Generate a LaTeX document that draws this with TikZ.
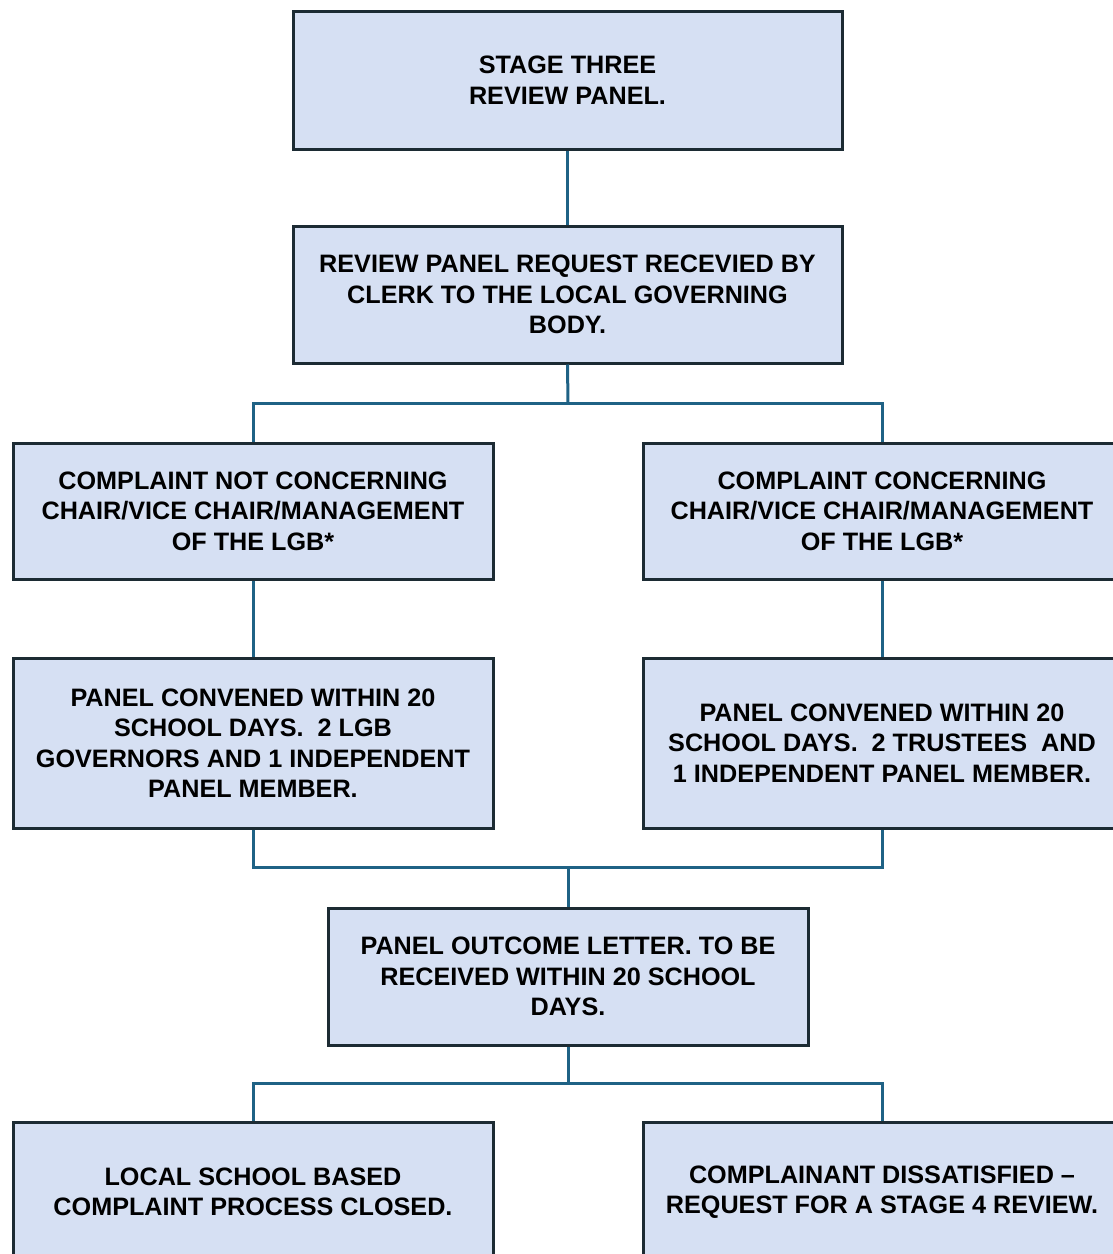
\documentclass[tikz,border=0pt]{standalone}
\usepackage{fontspec}
\setmainfont{Liberation Sans}
\begin{document}
\begin{tikzpicture}[x=1pt,y=-1pt,
  stagebox/.style={draw=boxline, fill=boxfill, line width=3pt, inner sep=0pt,
    align=center, font=\fontsize{25.2}{30.5}\selectfont\bfseries},
  link/.style={draw=linkcol, line width=3pt}]
\definecolor{boxfill}{HTML}{D6E0F3}
\definecolor{boxline}{HTML}{1C2B33}
\definecolor{linkcol}{HTML}{1F6285}
\useasboundingbox (0,0) rectangle (1113,1254);
\clip (0,0) rectangle (1113,1254);
% boxes
\node[stagebox, minimum width=549pt, minimum height=138pt] (top) at (567.5,80)
  {STAGE THREE\\REVIEW PANEL.};
\node[stagebox, minimum width=549pt, minimum height=137pt] (req) at (567.5,294.5)
  {REVIEW PANEL REQUEST RECEVIED BY\\CLERK TO THE LOCAL GOVERNING\\BODY.};
\node[stagebox, minimum width=480pt, minimum height=136pt] (notc) at (253,511)
  {COMPLAINT NOT CONCERNING\\CHAIR/VICE CHAIR/MANAGEMENT\\OF THE LGB*};
\node[stagebox, minimum width=478pt, minimum height=136pt] (conc) at (882,511)
  {COMPLAINT CONCERNING\\CHAIR/VICE CHAIR/MANAGEMENT\\OF THE LGB*};
\node[stagebox, minimum width=480pt, minimum height=170pt] (panl) at (253,743)
  {PANEL CONVENED WITHIN 20\\SCHOOL DAYS.\ \ 2 LGB\\GOVERNORS AND 1 INDEPENDENT\\PANEL MEMBER.};
\node[stagebox, minimum width=478pt, minimum height=170pt] (panr) at (882,743)
  {PANEL CONVENED WITHIN 20\\SCHOOL DAYS.\ \ 2 TRUSTEES\ \ AND\\1 INDEPENDENT PANEL MEMBER.};
\node[stagebox, minimum width=480pt, minimum height=137pt] (out) at (568,976.5)
  {PANEL OUTCOME LETTER. TO BE\\RECEIVED WITHIN 20 SCHOOL\\DAYS.};
\node[stagebox, minimum width=480pt, minimum height=140pt] (closed) at (253,1192)
  {LOCAL SCHOOL BASED\\COMPLAINT PROCESS CLOSED.};
\node[stagebox, minimum width=478pt, minimum height=140pt] (stage4) at (882,1192)
  {COMPLAINANT DISSATISFIED –\\REQUEST FOR A STAGE 4 REVIEW.};
% junction points
\coordinate (j1) at (568,403);
\coordinate (j2) at (568,867);
\coordinate (j3) at (568,1083);
% connectors
\draw[link] (top.south) -- (req.north);
\draw[link] (req.south) -- (j1);
\draw[link] (notc.north) |- (j1) -| (conc.north);
\draw[link] (notc.south) -- (panl.north);
\draw[link] (conc.south) -- (panr.north);
\draw[link] (panl.south) |- (j2) -| (panr.south);
\draw[link] (j2) -- (out.north);
\draw[link] (out.south) -- (j3);
\draw[link] (closed.north) |- (j3) -| (stage4.north);
\end{tikzpicture}
\end{document}
